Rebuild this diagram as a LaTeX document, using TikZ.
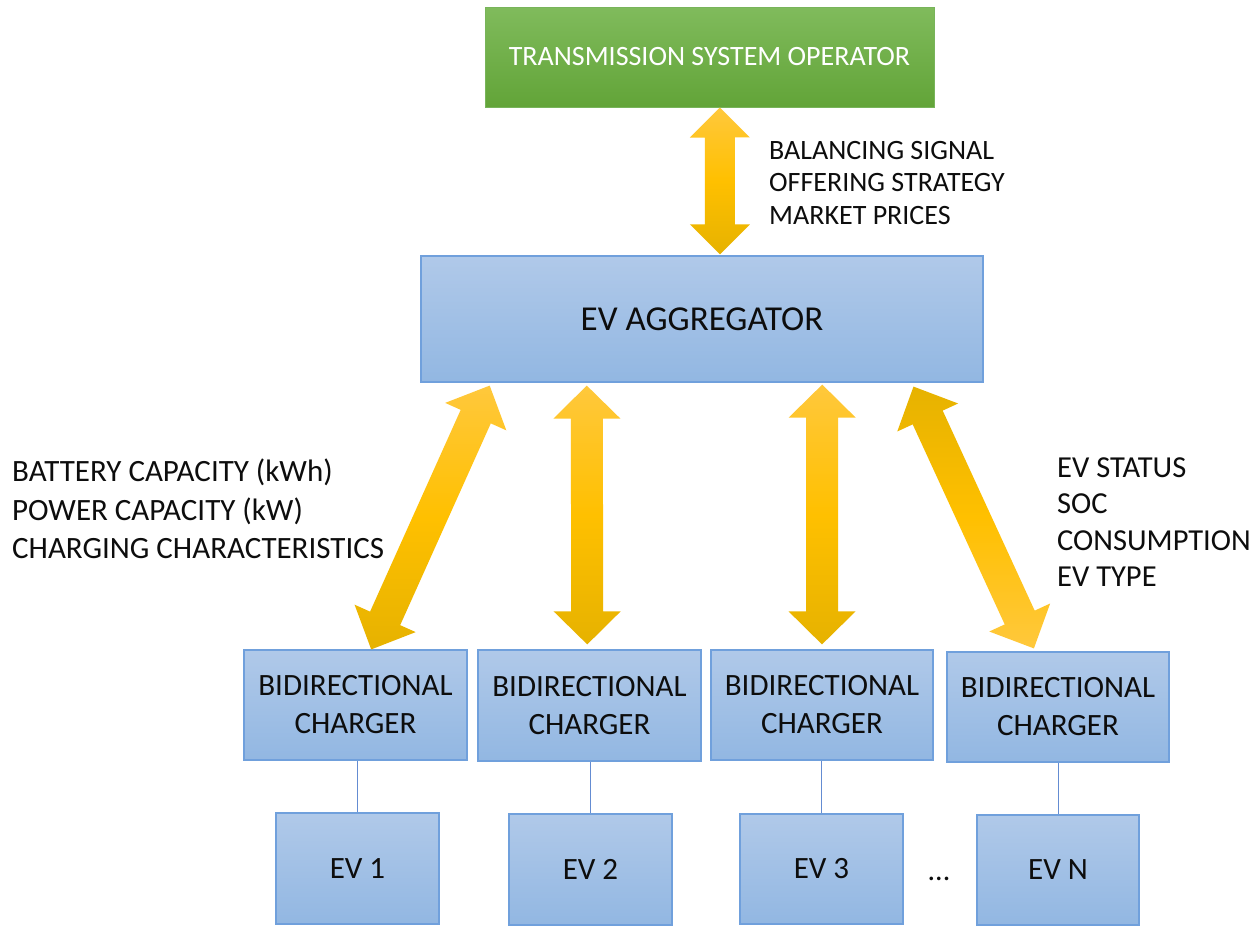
\documentclass[tikz,border=0pt]{standalone}
\usepackage{fontspec}
\setmainfont{Carlito}
\usetikzlibrary{calc}
\definecolor{boxtop}{RGB}{176,201,233}
\definecolor{boxbot}{RGB}{146,183,226}
\definecolor{boxline}{RGB}{112,160,220}
\definecolor{grtop}{RGB}{128,187,92}
\definecolor{grbot}{RGB}{98,164,56}
\definecolor{grline}{RGB}{120,180,90}
\definecolor{gtop}{RGB}{255,200,60}
\definecolor{gmid}{RGB}{255,192,0}
\definecolor{gbot}{RGB}{230,178,0}
\definecolor{wire}{RGB}{100,140,210}
\definecolor{txt}{RGB}{13,13,13}
\newcommand\dbarrow[6]{%
  \path (#1) coordinate (hA) (#2) coordinate (hB);
  \coordinate (h1) at ($(hA)!#5!(hB)$);
  \coordinate (h2) at ($(hB)!#5!(hA)$);
  \shade[#6] (hA) -- ($(h1)!#4!90:(hB)$) -- ($(h1)!#3!90:(hB)$)
    -- ($(h2)!#3!-90:(hA)$) -- ($(h2)!#4!-90:(hA)$) -- (hB)
    -- ($(h2)!#4!90:(hA)$) -- ($(h2)!#3!90:(hA)$)
    -- ($(h1)!#3!-90:(hB)$) -- ($(h1)!#4!-90:(hB)$) -- cycle;
}
\begin{document}
\begin{tikzpicture}[x=1pt,y=-1pt,
  box/.style={draw=boxline, line width=1.2pt, top color=boxtop, bottom color=boxbot,
    inner sep=0pt, align=center, text=txt, font=\fontsize{31}{38}\selectfont},
  tsobox/.style={draw=grline, line width=1pt, top color=grtop, bottom color=grbot,
    inner sep=0pt, align=center, text=white, font=\fontsize{28}{34}\selectfont},
  lbl/.style={inner sep=0pt, align=left, text=txt},
  wirel/.style={draw=wire, line width=1pt},
  goldd/.style={top color=gtop, bottom color=gbot, middle color=gmid},
  goldu/.style={top color=gbot, bottom color=gtop, middle color=gmid}]
\useasboundingbox (0,0) rectangle (1258,926);
\fill[white] (0,0) rectangle (1258,926);

% boxes
\node[tsobox, minimum width=449pt, minimum height=100pt] (tso) at (709.5,57) {TRANSMISSION SYSTEM OPERATOR};
\node[box, minimum width=562pt, minimum height=126pt, font=\fontsize{35}{40}\selectfont] (agg) at (702,319) {EV AGGREGATOR};
\node[box, minimum width=223pt, minimum height=110pt] (c1) at (355.5,705) {BIDIRECTIONAL\\CHARGER};
\node[box, minimum width=223pt, minimum height=111pt] (c2) at (589.5,705.5) {BIDIRECTIONAL\\CHARGER};
\node[box, minimum width=222pt, minimum height=110pt] (c3) at (822,705) {BIDIRECTIONAL\\CHARGER};
\node[box, minimum width=222pt, minimum height=110pt] (c4) at (1058,707) {BIDIRECTIONAL\\CHARGER};
\node[box, minimum width=163pt, minimum height=111pt] (e1) at (357.5,868.5) {EV 1};
\node[box, minimum width=163pt, minimum height=111pt] (e2) at (590.5,869.5) {EV 2};
\node[box, minimum width=163pt, minimum height=110pt] (e3) at (821.5,869) {EV 3};
\node[box, minimum width=162pt, minimum height=110pt] (e4) at (1058,870) {EV N};
\node[inner sep=0pt, anchor=base, text=txt, font=\fontsize{30}{36}\selectfont] (dots) at (939,880) {...};

% side labels
\node[lbl, anchor=west, font=\fontsize{28}{32.5}\selectfont] (l0) at (769,183) {BALANCING SIGNAL\\OFFERING STRATEGY\\MARKET PRICES};
\node[lbl, anchor=west, font=\fontsize{31}{38.5}\selectfont] (l1) at (12,509) {BATTERY CAPACITY (kWh)\\POWER CAPACITY (kW)\\CHARGING CHARACTERISTICS};
\node[lbl, anchor=west, font=\fontsize{30.5}{36.5}\selectfont] (l2) at (1057,522) {EV STATUS\\SOC\\CONSUMPTION\\EV TYPE};

% wires
\draw[wirel] (e1.north) -- (e1.north |- c1.south);
\draw[wirel] (e2.north) -- (e2.north |- c2.south);
\draw[wirel] (e3.north) -- (e3.north |- c3.south);
\draw[wirel] (e4.north) -- (e4.north |- c4.south);

% arrow end points
\coordinate (a0t) at ($(tso.south west)!0.523!(tso.south east)$);
\coordinate (a0b) at ($(agg.north west)!0.532!(agg.north east)+(0,-1)$);
\coordinate (a1t) at ($(agg.south west)!0.123!(agg.south east)+(0,3)$);
\coordinate (a1b) at ($(c1.north west)!0.57!(c1.north east)$);
\coordinate (a2t) at ($(agg.south west)!0.2954!(agg.south east)+(0,3)$);
\coordinate (a2b) at ($(c2.north west)!0.49!(c2.north east)+(0,-5)$);
\coordinate (a3t) at ($(agg.south west)!0.7135!(agg.south east)+(0,2)$);
\coordinate (a3b) at ($(c3.north)+(0,-5)$);
\coordinate (a4t) at ($(agg.south west)!0.8755!(agg.south east)+(0,4)$);
\coordinate (a4b) at ($(c4.north west)!0.392!(c4.north east)+(0,-3)$);

% arrows
\dbarrow{a0t}{a0b}{15pt}{30pt}{30pt}{goldd}
\dbarrow{a1t}{a1b}{16.5pt}{33.5pt}{34pt}{goldd}
\dbarrow{a2t}{a2b}{16pt}{33.5pt}{33pt}{goldd}
\dbarrow{a3t}{a3b}{16pt}{33.5pt}{33pt}{goldd}
\dbarrow{a4t}{a4b}{16.5pt}{33.5pt}{34pt}{goldu}
\end{tikzpicture}
\end{document}
